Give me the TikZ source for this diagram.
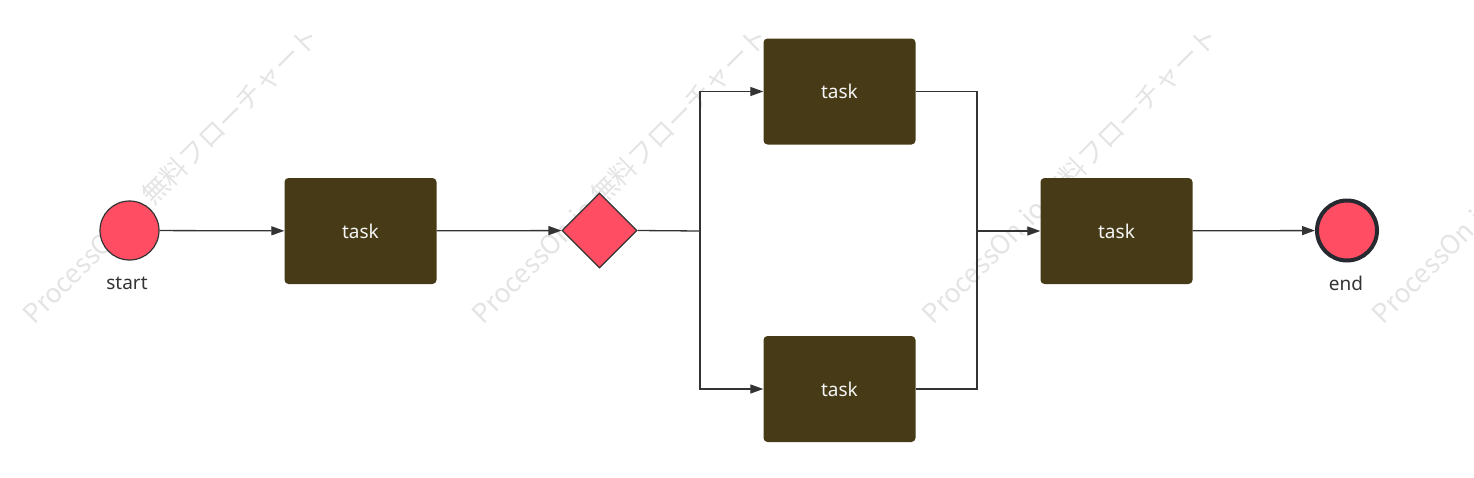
\documentclass[tikz,border=0pt]{standalone}
\usepackage{fontspec}
\setmainfont{Noto Sans}
\newfontfamily\cjkfont{Noto Sans CJK JP}
\usetikzlibrary{arrows.meta,shapes.geometric}
\definecolor{evred}{HTML}{FF4D63}
\definecolor{taskbrown}{HTML}{463A17}
\definecolor{linegray}{HTML}{333333}
\definecolor{ringgray}{HTML}{262A30}
\definecolor{wmgray}{HTML}{E4E4E4}
\begin{document}
\begin{tikzpicture}[x=1pt,y=-1pt,
  taskbox/.style={rectangle, rounded corners=4pt, fill=taskbrown, minimum width=152pt, minimum height=106pt, text=white!96!black, font=\fontsize{19}{22}\selectfont, inner sep=0pt},
  evstart/.style={circle, fill=evred, draw=linegray, line width=1.2pt, minimum size=59pt, inner sep=0pt},
  evend/.style={circle, fill=evred, draw=ringgray, line width=4pt, minimum size=60pt, inner sep=0pt},
  gate/.style={diamond, fill=evred, draw=linegray, line width=1.2pt, minimum width=75pt, minimum height=75pt, inner sep=0pt},
  flow/.style={draw=linegray, line width=1.3pt, -{Triangle[length=13pt,width=9pt]}},
  plain/.style={draw=linegray, line width=1.3pt},
  lbl/.style={text=linegray, font=\fontsize{19}{22}\selectfont, inner sep=0pt},
  wm/.style={text=wmgray, font=\cjkfont\fontsize{26.5}{26.5}\selectfont, rotate=45, inner sep=0pt}
]
\useasboundingbox (0,0) rectangle (1474,477);
\begin{scope}
\clip (0,0) rectangle (1474,477);
\node[wm] (wm1) at (171,175) {ProcessOn.io 無料フローチャート};
\node[wm] (wm2) at (620,175) {ProcessOn.io 無料フローチャート};
\node[wm] (wm3) at (1070,175) {ProcessOn.io 無料フローチャート};
\node[wm] (wm4) at (1520,175) {ProcessOn.io 無料フローチャート};
\end{scope}

\node[evstart] (start) at (129.5,230.5) {};
\node[lbl] (startlbl) at (127,283) {start};
\node[taskbox] (t1) at (360.5,231) {task};
\node[gate] (gw) at (599.5,230.5) {};
\node[taskbox] (t2) at (839.5,91.5) {task};
\node[taskbox] (t3) at (839.5,389) {task};
\node[taskbox] (t4) at (1116.5,231) {task};
\node[evend] (end) at (1347,230.5) {};
\node[lbl] (endlbl) at (1346,283) {end};

\coordinate (split) at (700,231);
\coordinate (join) at (977,231);

\draw[flow] (start) -- (t1);
\draw[flow] (t1) -- (gw);
\draw[plain] (gw.east) -- (split);
\draw[flow] (split) |- (t2.west);
\draw[flow] (split) |- (t3.west);
\draw[plain] (t2.east) -| (join);
\draw[plain] (t3.east) -| (join);
\draw[flow] (join) -- (t4);
\draw[flow] (t4) -- (end);
\end{tikzpicture}
\end{document}
